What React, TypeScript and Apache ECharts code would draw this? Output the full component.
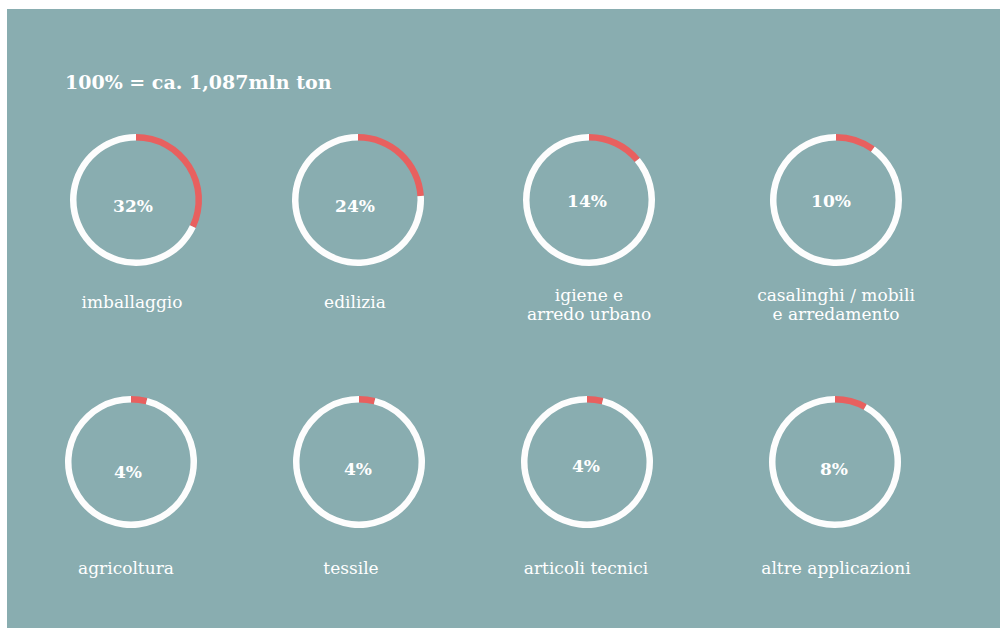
import React, { useEffect, useRef } from "react";
import * as echarts from "echarts";

const titleText = "100% = ca. 1,087mln ton";
const categories = [
  "imballaggio",
  "edilizia",
  "igiene e\narredo urbano",
  "casalinghi / mobili\ne arredamento",
  "agricoltura",
  "tessile",
  "articoli tecnici",
  "altre applicazioni",
];
const shares = [32, 24, 14, 10, 4, 4, 4, 8];

// layout (pixels)
const centers: [number, number][] = [
  [136, 200], [358, 200], [589, 200], [836, 200],
  [131, 462], [359, 462], [587, 462], [835, 462],
];
const pctPos: [number, number][] = [
  [133, 206], [355, 206], [587, 201], [831, 201],
  [128, 472], [358, 469], [586, 466], [834, 469],
];
const labelPos: [number, number][] = [
  [132, 302], [355, 302], [589, 304], [836, 304],
  [126, 568], [351, 568], [586, 568], [836, 568],
];

const BG = "#89adb0";
const RED = "#e8605f";
const WHITE = "#fdfdfd";
const SERIF = "'DejaVu Serif', 'Liberation Serif', serif";

export default function App() {
  const ref = useRef<HTMLDivElement>(null);
  useEffect(() => {
    if (!ref.current) return;
    const chart = echarts.init(ref.current, undefined, { renderer: "svg" });
    const series = shares.map((v, i) => ({
      type: "pie",
      center: centers[i],
      radius: [59.5, 66],
      startAngle: 90,
      clockwise: true,
      silent: true,
      label: { show: false },
      labelLine: { show: false },
      emphasis: { disabled: true },
      itemStyle: { borderWidth: 0 },
      data: [
        { name: categories[i], value: v, itemStyle: { color: RED } },
        { name: "rest", value: 100 - v, itemStyle: { color: WHITE } },
      ],
    }));
    const graphics: any[] = [
      {
        type: "rect",
        shape: { x: 7, y: 9, width: 993, height: 619 },
        style: { fill: BG },
        z: -10,
        silent: true,
      },
      {
        type: "text",
        x: 65,
        y: 82,
        style: {
          text: titleText,
          fill: "#ffffff",
          font: `bold 19px ${SERIF}`,
          textAlign: "left",
          textVerticalAlign: "middle",
        },
      },
    ];
    shares.forEach((v, i) => {
      graphics.push({
        type: "text",
        x: pctPos[i][0],
        y: pctPos[i][1],
        style: {
          text: `${v}%`,
          fill: "#ffffff",
          font: `bold 17px ${SERIF}`,
          textAlign: "center",
          textVerticalAlign: "middle",
        },
      });
      graphics.push({
        type: "text",
        x: labelPos[i][0],
        y: labelPos[i][1],
        style: {
          text: categories[i],
          fill: "#ffffff",
          font: `17px ${SERIF}`,
          lineHeight: 19,
          textAlign: "center",
          textVerticalAlign: "middle",
        },
      });
    });
    chart.setOption({
      animation: false,
      backgroundColor: "#ffffff",
      graphic: graphics,
      series,
    });
    return () => chart.dispose();
  }, []);
  return (
    <div
      ref={ref}
      style={{ position: "fixed", left: 0, top: 0, width: 1000, height: 628 }}
    />
  );
}
